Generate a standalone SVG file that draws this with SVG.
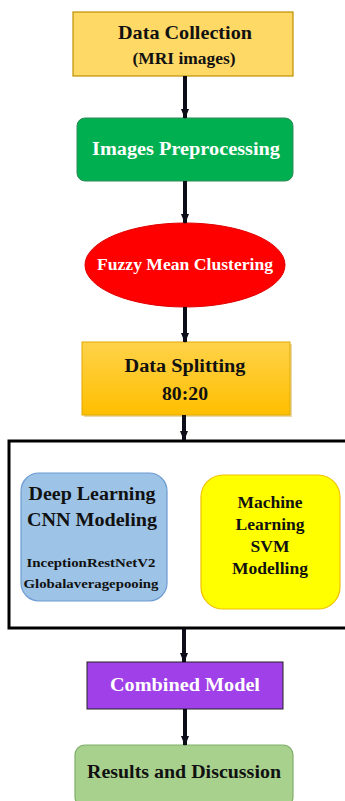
<svg xmlns="http://www.w3.org/2000/svg" width="345" height="801" viewBox="0 0 345 801">
<style>
text{font-family:"Liberation Serif","Times New Roman",serif;font-weight:bold;text-anchor:middle}
.dk{fill:#111}
.wt{fill:#fff}
.conn{stroke:#0d0d1a;stroke-width:4;fill:none;marker-end:url(#ah)}
</style>
<defs>
<marker id="ah" markerUnits="userSpaceOnUse" markerWidth="10" markerHeight="8" refX="9" refY="4" orient="auto">
<path d="M0,0 L10,4 L0,8 Z" fill="#0d0d1a"/>
</marker>
<linearGradient id="gold" x1="0" y1="0" x2="0" y2="1">
<stop offset="0" stop-color="#FFD24A"/>
<stop offset="1" stop-color="#FFBF00"/>
</linearGradient>
</defs>
<rect width="345" height="801" fill="#fff"/>
<g id="container">
<rect x="9" y="441" width="340" height="187" fill="none" stroke="#000" stroke-width="3"/>
</g>
<g id="n1">
<rect x="73" y="12" width="220" height="64" fill="#FFD966" stroke="#BF9000" stroke-width="1.2"/>
<text x="185" y="39" font-size="19" class="dk" textLength="134" lengthAdjust="spacingAndGlyphs">Data Collection</text>
<text x="184" y="64" font-size="17" class="dk" textLength="103" lengthAdjust="spacingAndGlyphs">(MRI images)</text>
</g>
<g id="n2">
<rect x="77" y="118" width="216" height="63" rx="8" fill="#00B050" stroke="#2E8B57" stroke-width="1"/>
<text x="186" y="155" font-size="18" class="wt" textLength="188" lengthAdjust="spacingAndGlyphs">Images Preprocessing</text>
</g>
<g id="n3">
<ellipse cx="185" cy="265" rx="100" ry="42" fill="#FF0000" stroke="#E00000" stroke-width="1"/>
<text x="185" y="270" font-size="16" class="wt" textLength="176" lengthAdjust="spacingAndGlyphs">Fuzzy Mean Clustering</text>
</g>
<g id="n4">
<rect x="84" y="344" width="208" height="73" fill="#C49000" opacity="0.35"/>
<rect x="82" y="342" width="208" height="73" fill="url(#gold)" stroke="#E0A800" stroke-width="1"/>
<text x="185" y="372" font-size="18" class="dk" textLength="121" lengthAdjust="spacingAndGlyphs">Data Splitting</text>
<text x="185" y="400" font-size="19" class="dk" textLength="46" lengthAdjust="spacingAndGlyphs">80:20</text>
</g>
<g id="n5">
<rect x="21" y="473" width="146" height="128" rx="18" fill="#9DC3E6" stroke="#6C9BD2" stroke-width="1.2"/>
<text x="92" y="500" font-size="18" class="dk" textLength="127" lengthAdjust="spacingAndGlyphs">Deep Learning</text>
<text x="92" y="526" font-size="18" class="dk" textLength="130" lengthAdjust="spacingAndGlyphs">CNN Modeling</text>
<text x="91" y="567" font-size="13" class="dk" textLength="129" lengthAdjust="spacingAndGlyphs">InceptionRestNetV2</text>
<text x="91" y="588" font-size="13" class="dk" textLength="135" lengthAdjust="spacingAndGlyphs">Globalaveragepooing</text>
</g>
<g id="n6">
<rect x="201" y="475" width="139" height="134" rx="22" fill="#FFFF00" stroke="#F0C000" stroke-width="1.2"/>
<text x="270" y="508" font-size="17.5" class="dk">Machine</text>
<text x="270" y="530" font-size="17.5" class="dk">Learning</text>
<text x="270" y="552" font-size="17.5" class="dk">SVM</text>
<text x="270" y="574" font-size="17.5" class="dk">Modelling</text>
</g>
<g id="n7">
<rect x="87" y="662" width="196" height="47" fill="#A040E8" stroke="#222" stroke-width="1"/>
<text x="185" y="691" font-size="18" class="wt" textLength="150" lengthAdjust="spacingAndGlyphs">Combined Model</text>
</g>
<g id="n8">
<rect x="75" y="745" width="218" height="62" rx="10" fill="#A9D18E" stroke="#7FAF6A" stroke-width="1.2"/>
<text x="184" y="778" font-size="18" class="dk" textLength="194" lengthAdjust="spacingAndGlyphs">Results and Discussion</text>
</g>
<g id="connectors">
<line class="conn" x1="185" y1="76" x2="185" y2="118"/>
<line class="conn" x1="185" y1="181" x2="185" y2="223"/>
<line class="conn" x1="185" y1="307" x2="185" y2="342"/>
<line class="conn" x1="184" y1="415" x2="184" y2="440"/>
<line class="conn" x1="184" y1="629" x2="184" y2="662"/>
<line class="conn" x1="185" y1="709" x2="185" y2="745"/>
</g>
</svg>
